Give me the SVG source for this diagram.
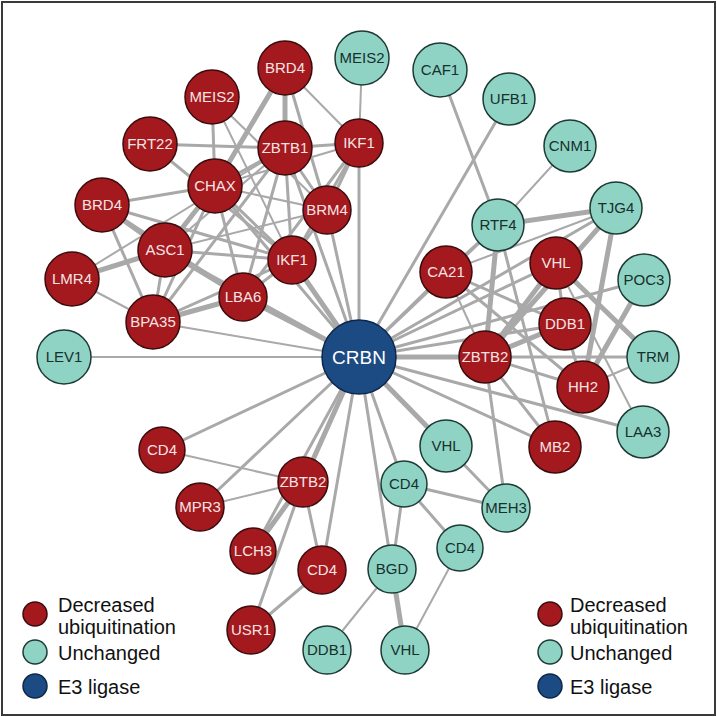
<svg xmlns="http://www.w3.org/2000/svg" width="717" height="717" viewBox="0 0 717 717">
<style>
.bg{fill:#fff;stroke:#3a3a3a;stroke-width:2}
#edges line{stroke:#a9a9a9;stroke-width:3;stroke-linecap:round}
#edges line.t{stroke-width:2}
#edges line.k{stroke-width:5}
.r circle{fill:#a3191e;stroke:#3a0c0e;stroke-width:1.5}
.g circle{fill:#8fd3c5;stroke:#1d3a35;stroke-width:1.5}
.b circle{fill:#1c4a83;stroke:#0d2748;stroke-width:1.5}
.r text{fill:#f6e4e4}
.g text{fill:#16302c}
.b text{fill:#ffffff}
text{font-family:"Liberation Sans",Arial,sans-serif;font-size:15px;text-anchor:middle}
.lg text{font-size:20px;text-anchor:start;fill:#111}
</style>
<rect class="bg" x="2" y="2" width="713" height="713"/>
<g id="edges">
<!-- upper-left cluster -->
<line class="k" x1="285" y1="68" x2="285" y2="148"/>
<line class="k" x1="285" y1="68" x2="215" y2="186"/>
<line x1="285" y1="68" x2="327" y2="210"/>
<line class="t" x1="285" y1="68" x2="359" y2="143"/>
<line x1="212" y1="97" x2="215" y2="186"/>
<line class="t" x1="212" y1="97" x2="327" y2="210"/>
<line class="t" x1="212" y1="97" x2="292" y2="260"/>
<line x1="150" y1="144" x2="285" y2="148"/>
<line x1="150" y1="144" x2="292" y2="260"/>
<line x1="102" y1="205" x2="215" y2="186"/>
<line class="k" x1="102" y1="205" x2="165" y2="250"/>
<line x1="102" y1="205" x2="243" y2="297"/>
<line x1="102" y1="205" x2="292" y2="260"/>
<line x1="102" y1="205" x2="153" y2="322"/>
<line class="k" x1="72" y1="279" x2="165" y2="250"/>
<line class="t" x1="72" y1="279" x2="153" y2="322"/>
<line class="t" x1="72" y1="279" x2="285" y2="148"/>
<line class="k" x1="165" y1="250" x2="215" y2="186"/>
<line x1="165" y1="250" x2="292" y2="260"/>
<line class="k" x1="165" y1="250" x2="243" y2="297"/>
<line x1="165" y1="250" x2="153" y2="322"/>
<line class="t" x1="165" y1="250" x2="285" y2="148"/>
<line class="t" x1="165" y1="250" x2="327" y2="210"/>
<line x1="165" y1="250" x2="359" y2="357"/>
<line x1="153" y1="322" x2="215" y2="186"/>
<line x1="153" y1="322" x2="285" y2="148"/>
<line class="k" x1="153" y1="322" x2="243" y2="297"/>
<line x1="153" y1="322" x2="292" y2="260"/>
<line class="t" x1="153" y1="322" x2="359" y2="357"/>
<line x1="215" y1="186" x2="285" y2="148"/>
<line class="t" x1="215" y1="186" x2="359" y2="143"/>
<line x1="215" y1="186" x2="292" y2="260"/>
<line x1="215" y1="186" x2="243" y2="297"/>
<line class="t" x1="215" y1="186" x2="327" y2="210"/>
<line x1="215" y1="186" x2="359" y2="357"/>
<line x1="285" y1="148" x2="359" y2="143"/>
<line x1="285" y1="148" x2="327" y2="210"/>
<line x1="285" y1="148" x2="292" y2="260"/>
<line x1="285" y1="148" x2="243" y2="297"/>
<line x1="285" y1="148" x2="359" y2="357"/>
<line x1="359" y1="143" x2="327" y2="210"/>
<line x1="359" y1="143" x2="292" y2="260"/>
<line x1="359" y1="143" x2="359" y2="357"/>
<line class="t" x1="359" y1="143" x2="362" y2="58"/>
<line x1="359" y1="143" x2="243" y2="297"/>
<line x1="327" y1="210" x2="359" y2="357"/>
<line x1="327" y1="210" x2="292" y2="260"/>
<line class="k" x1="292" y1="260" x2="359" y2="357"/>
<line x1="292" y1="260" x2="243" y2="297"/>
<line class="k" x1="243" y1="297" x2="359" y2="357"/>
<line class="t" x1="64" y1="357" x2="359" y2="357"/>
<!-- right cluster -->
<line x1="440" y1="70" x2="498" y2="225"/>
<line x1="509" y1="99" x2="359" y2="357"/>
<line class="t" x1="570" y1="146" x2="498" y2="225"/>
<line class="k" x1="498" y1="225" x2="616" y2="208"/>
<line x1="498" y1="225" x2="446" y2="272"/>
<line class="k" x1="498" y1="225" x2="485" y2="357"/>
<line x1="498" y1="225" x2="555" y2="447"/>
<line x1="498" y1="225" x2="359" y2="357"/>
<line class="t" x1="616" y1="208" x2="446" y2="272"/>
<line class="k" x1="616" y1="208" x2="485" y2="357"/>
<line class="k" x1="616" y1="208" x2="583" y2="387"/>
<line x1="616" y1="208" x2="359" y2="357"/>
<line x1="446" y1="272" x2="359" y2="357"/>
<line x1="446" y1="272" x2="565" y2="324"/>
<line x1="446" y1="272" x2="583" y2="387"/>
<line class="t" x1="446" y1="272" x2="485" y2="357"/>
<line x1="556" y1="263" x2="359" y2="357"/>
<line class="k" x1="556" y1="263" x2="485" y2="357"/>
<line class="k" x1="556" y1="263" x2="653" y2="357"/>
<line x1="556" y1="263" x2="565" y2="324"/>
<line class="t" x1="556" y1="263" x2="643" y2="432"/>
<line x1="644" y1="280" x2="359" y2="357"/>
<line class="k" x1="644" y1="280" x2="583" y2="387"/>
<line x1="565" y1="324" x2="359" y2="357"/>
<line class="k" x1="565" y1="324" x2="485" y2="357"/>
<line x1="565" y1="324" x2="583" y2="387"/>
<line x1="485" y1="357" x2="653" y2="357"/>
<line x1="485" y1="357" x2="583" y2="387"/>
<line x1="485" y1="357" x2="555" y2="447"/>
<line x1="485" y1="357" x2="506" y2="508"/>
<line class="k" x1="485" y1="357" x2="359" y2="357"/>
<line class="t" x1="583" y1="387" x2="653" y2="357"/>
<line x1="643" y1="432" x2="359" y2="357"/>
<line x1="555" y1="447" x2="359" y2="357"/>
<!-- bottom teal -->
<line class="k" x1="446" y1="446" x2="359" y2="357"/>
<line x1="446" y1="446" x2="506" y2="508"/>
<line x1="404" y1="484" x2="359" y2="357"/>
<line x1="404" y1="484" x2="506" y2="508"/>
<line x1="404" y1="484" x2="460" y2="548"/>
<line x1="404" y1="484" x2="392" y2="569"/>
<line x1="392" y1="569" x2="359" y2="357"/>
<line class="k" x1="392" y1="569" x2="405" y2="650"/>
<line class="t" x1="392" y1="569" x2="327" y2="650"/>
<line class="t" x1="460" y1="548" x2="405" y2="650"/>
<!-- bottom-left red -->
<line x1="162" y1="450" x2="359" y2="357"/>
<line class="t" x1="162" y1="450" x2="303" y2="482"/>
<line x1="200" y1="507" x2="359" y2="357"/>
<line class="t" x1="200" y1="507" x2="303" y2="482"/>
<line class="k" x1="303" y1="482" x2="359" y2="357"/>
<line class="k" x1="303" y1="482" x2="253" y2="551"/>
<line x1="303" y1="482" x2="322" y2="570"/>
<line x1="303" y1="482" x2="251" y2="630"/>
<line x1="253" y1="551" x2="359" y2="357"/>
<line x1="322" y1="570" x2="359" y2="357"/>
<line x1="322" y1="570" x2="251" y2="630"/>
</g>
<g id="CRBN" class="b"><circle cx="359" cy="357" r="37"/><text x="359" y="364" style="font-size:19px">CRBN</text></g>
<g id="LEV1" class="g"><circle cx="64" cy="357" r="27"/><text x="64" y="362">LEV1</text></g>
<g id="MEIS2-u" class="g"><circle cx="362" cy="58" r="27"/><text x="362" y="63">MEIS2</text></g>
<g id="BRD4-a" class="r"><circle cx="285" cy="68" r="27"/><text x="285" y="73">BRD4</text></g>
<g id="MEIS2-d" class="r"><circle cx="212" cy="97" r="27"/><text x="212" y="102">MEIS2</text></g>
<g id="FRT22" class="r"><circle cx="150" cy="144" r="27"/><text x="150" y="149">FRT22</text></g>
<g id="ZBTB1" class="r"><circle cx="285" cy="148" r="27"/><text x="285" y="153">ZBTB1</text></g>
<g id="IKF1-a" class="r"><circle cx="359" cy="143" r="24"/><text x="359" y="148">IKF1</text></g>
<g id="CHAX" class="r"><circle cx="215" cy="186" r="27"/><text x="215" y="191">CHAX</text></g>
<g id="BRD4-b" class="r"><circle cx="102" cy="205" r="27"/><text x="102" y="210">BRD4</text></g>
<g id="BRM4" class="r"><circle cx="327" cy="210" r="24"/><text x="327" y="215">BRM4</text></g>
<g id="ASC1" class="r"><circle cx="165" cy="250" r="27"/><text x="165" y="255">ASC1</text></g>
<g id="IKF1-b" class="r"><circle cx="292" cy="260" r="24"/><text x="292" y="265">IKF1</text></g>
<g id="LBA6" class="r"><circle cx="243" cy="297" r="24"/><text x="243" y="302">LBA6</text></g>
<g id="LMR4" class="r"><circle cx="72" cy="279" r="27"/><text x="72" y="284">LMR4</text></g>
<g id="BPA35" class="r"><circle cx="153" cy="322" r="27"/><text x="153" y="327">BPA35</text></g>
<g id="CAF1" class="g"><circle cx="440" cy="70" r="27"/><text x="440" y="75">CAF1</text></g>
<g id="UFB1" class="g"><circle cx="509" cy="99" r="26"/><text x="509" y="104">UFB1</text></g>
<g id="CNM1" class="g"><circle cx="570" cy="146" r="26"/><text x="570" y="151">CNM1</text></g>
<g id="TJG4" class="g"><circle cx="616" cy="208" r="26"/><text x="616" y="213">TJG4</text></g>
<g id="RTF4" class="g"><circle cx="498" cy="225" r="26"/><text x="498" y="230">RTF4</text></g>
<g id="CA21" class="r"><circle cx="446" cy="272" r="26"/><text x="446" y="277">CA21</text></g>
<g id="VHL-r" class="r"><circle cx="556" cy="263" r="26"/><text x="556" y="268">VHL</text></g>
<g id="POC3" class="g"><circle cx="644" cy="280" r="26"/><text x="644" y="285">POC3</text></g>
<g id="DDB1-r" class="r"><circle cx="565" cy="324" r="26"/><text x="565" y="329">DDB1</text></g>
<g id="TRM" class="g"><circle cx="653" cy="357" r="26"/><text x="653" y="362">TRM</text></g>
<g id="ZBTB2-r" class="r"><circle cx="485" cy="357" r="26"/><text x="485" y="362">ZBTB2</text></g>
<g id="HH2" class="r"><circle cx="583" cy="387" r="26"/><text x="583" y="392">HH2</text></g>
<g id="LAA3" class="g"><circle cx="643" cy="432" r="26"/><text x="643" y="437">LAA3</text></g>
<g id="MB2" class="r"><circle cx="555" cy="447" r="26"/><text x="555" y="452">MB2</text></g>
<g id="VHL-t" class="g"><circle cx="446" cy="446" r="26"/><text x="446" y="451">VHL</text></g>
<g id="CD4-t1" class="g"><circle cx="404" cy="484" r="23"/><text x="404" y="489">CD4</text></g>
<g id="MEH3" class="g"><circle cx="506" cy="508" r="24"/><text x="506" y="513">MEH3</text></g>
<g id="CD4-t2" class="g"><circle cx="460" cy="548" r="23"/><text x="460" y="553">CD4</text></g>
<g id="BGD" class="g"><circle cx="392" cy="569" r="24"/><text x="392" y="574">BGD</text></g>
<g id="VHL-b" class="g"><circle cx="405" cy="650" r="24"/><text x="405" y="655">VHL</text></g>
<g id="DDB1-t" class="g"><circle cx="327" cy="650" r="24"/><text x="327" y="655">DDB1</text></g>
<g id="CD4-r1" class="r"><circle cx="162" cy="450" r="23"/><text x="162" y="455">CD4</text></g>
<g id="ZBTB2-l" class="r"><circle cx="303" cy="482" r="25"/><text x="303" y="487">ZBTB2</text></g>
<g id="MPR3" class="r"><circle cx="200" cy="507" r="24"/><text x="200" y="512">MPR3</text></g>
<g id="LCH3" class="r"><circle cx="253" cy="551" r="23"/><text x="253" y="556">LCH3</text></g>
<g id="CD4-r2" class="r"><circle cx="322" cy="570" r="24"/><text x="322" y="575">CD4</text></g>
<g id="USR1" class="r"><circle cx="251" cy="630" r="24"/><text x="251" y="635">USR1</text></g>
<g id="legend-left" class="lg">
<circle cx="35" cy="614" r="12" fill="#a3191e" stroke="#3a0c0e" stroke-width="1.5"/>
<circle cx="35" cy="652" r="12" fill="#8fd3c5" stroke="#1d3a35" stroke-width="1.5"/>
<circle cx="35" cy="686" r="12" fill="#1c4a83" stroke="#0d2748" stroke-width="1.5"/>
<text x="58" y="612">Decreased</text>
<text x="58" y="634">ubiquitination</text>
<text x="58" y="660">Unchanged</text>
<text x="58" y="694">E3 ligase</text>
</g>
<g id="legend-right" class="lg">
<circle cx="550" cy="614" r="12" fill="#a3191e" stroke="#3a0c0e" stroke-width="1.5"/>
<circle cx="550" cy="652" r="12" fill="#8fd3c5" stroke="#1d3a35" stroke-width="1.5"/>
<circle cx="550" cy="686" r="12" fill="#1c4a83" stroke="#0d2748" stroke-width="1.5"/>
<text x="570" y="612">Decreased</text>
<text x="570" y="634">ubiquitination</text>
<text x="570" y="660">Unchanged</text>
<text x="570" y="694">E3 ligase</text>
</g>
</svg>
